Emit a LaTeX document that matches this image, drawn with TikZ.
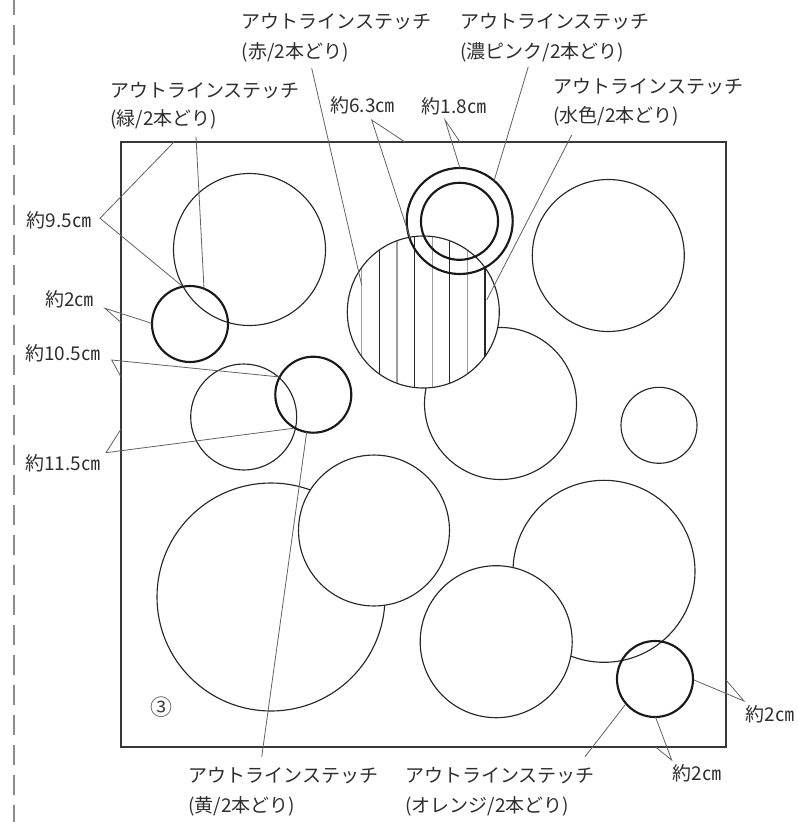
\documentclass[tikz,border=0pt]{standalone}
\usepackage{fontspec}
\setmainfont{Noto Sans CJK JP}
\newcommand\lblfont{\fontsize{14.25}{21}\selectfont}
\newcommand\numfont{\fontsize{16.5}{20}\selectfont}
\begin{document}
\begin{tikzpicture}[x=0.75pt,y=-0.75pt,
  circ/.style={draw=black!85, line width=0.85pt},
  thickcirc/.style={draw=black!90, line width=1.6pt},
  lead/.style={draw=black!62, line width=0.6pt},
  lbl/.style={anchor=base west, inner sep=0pt, text=black!82, font=\lblfont},
  hatchdark/.style={draw=black!85, line width=1.1pt},
  hatchlight/.style={draw=black!38, line width=0.9pt},
]
\useasboundingbox (0,0) rectangle (797,822);

% dashed fold line
\draw[black!45, line width=1.9pt, dash pattern=on 15pt off 7.5pt] (14,-5) -- (14,830);

% square
\draw[black!78, line width=1pt] (121,142) rectangle (726,747);

% plain circles
\draw[circ] (249.5,249.5) circle (57pt);
\draw[circ] (243.7,417) circle (39.75pt);
\draw[circ] (608.3,255.5) circle (57pt);
\draw[circ] (500.5,403.5) circle (57pt);
\draw[circ] (659,425.3) circle (28.5pt);
\draw[circ] (271,597) circle (85.5pt);
\filldraw[circ, fill=white] (374,530.5) circle (56.6pt);
\draw[circ] (604,571.3) circle (68.25pt);
\filldraw[circ, fill=white] (496.2,641.7) circle (57pt);

% hatched circle (red)
\fill[white] (423.3,312) circle (57pt);
\begin{scope}
  \clip (423.3,312) circle (57pt);
  \foreach \k in {0,...,7} {
    \pgfmathsetmacro\xx{361.7+17.6*\k}
    \ifodd\k
      \draw[hatchdark] (\xx,225) -- (\xx,400);
    \else
      \draw[hatchlight] (\xx,225) -- (\xx,400);
    \fi
  }
\end{scope}
\draw[circ] (423.3,312) circle (57pt);

% stitched (thick) circles
\draw[thickcirc] (459.7,221) circle (39.75pt);
\draw[thickcirc] (459.5,221.3) circle (28.9pt);
\draw[thickcirc] (190,324) circle (28.5pt);
\draw[thickcirc] (313.3,394.7) circle (28.5pt);
\draw[thickcirc] (655,679) circle (28.5pt);

% number
\node[inner sep=0pt, text=black!75, font=\numfont] (num) at (161.7,706.7) {③};

% labels
\node[lbl] (redA) at (241.7,28.7) {アウトラインステッチ};
\node[lbl] (redB) at (241.7,58.7) {(赤/2本どり)};
\node[lbl] (pinkA) at (460,28.7) {アウトラインステッチ};
\node[lbl] (pinkB) at (460,58.7) {(濃ピンク/2本どり)};
\node[lbl] (blueA) at (553.3,93.7) {アウトラインステッチ};
\node[lbl] (blueB) at (553.3,122) {(水色/2本どり)};
\node[lbl] (greenA) at (110,97) {アウトラインステッチ};
\node[lbl] (greenB) at (110,125.3) {(緑/2本どり)};
\node[lbl] (m63) at (330,112) {約6.3㎝};
\node[lbl] (m18) at (421.7,113) {約1.8㎝};
\node[lbl] (m95) at (26.7,227) {約9.5㎝};
\node[lbl] (m2l) at (45,306.3) {約2㎝};
\node[lbl] (m105) at (25,360.3) {約10.5㎝};
\node[lbl] (m115) at (25,470.3) {約11.5㎝};
\node[lbl] (yelA) at (188.3,782) {アウトラインステッチ};
\node[lbl] (yelB) at (188.3,812.5) {(黄/2本どり)};
\node[lbl] (oraA) at (405,782) {アウトラインステッチ};
\node[lbl] (oraB) at (405,812.5) {(オレンジ/2本どり)};
\node[lbl] (m2b) at (672.7,780.3) {約2㎝};
\node[lbl] (m2r) at (745.7,721) {約2㎝};

% leader end points
\coordinate (redS) at (311.7,68.3);   \coordinate (redE) at (361.7,285);
\coordinate (pinkS) at (528.3,66.7);  \coordinate (pinkE) at (494,181);
\coordinate (blueS) at (571.7,135);   \coordinate (blueE) at (486.7,300);
\coordinate (greenS) at (196,136.7);  \coordinate (greenE) at (204,288.5);
\coordinate (a63) at (371.7,120); \coordinate (a63s) at (405,142); \coordinate (a63c) at (410,238);
\coordinate (a18) at (445,120);   \coordinate (a18s) at (460,142); \coordinate (a18c) at (460,168.3);
\coordinate (a95) at (100,218.3); \coordinate (a95s) at (174,142); \coordinate (a95c) at (182.7,286.5);
\coordinate (a2l) at (105,308.3); \coordinate (a2ls) at (121,322.5); \coordinate (a2lc) at (151.7,323.3);
\coordinate (a105) at (111.7,360); \coordinate (a105s) at (121,377); \coordinate (a105c) at (280,377);
\coordinate (a115) at (106,452.7); \coordinate (a115s) at (121,429); \coordinate (a115c) at (293.3,428.3);
\coordinate (yelS) at (261.7,757);  \coordinate (yelE) at (306.7,432);
\coordinate (oraS) at (585,756.7);  \coordinate (oraE) at (625,705);
\coordinate (a2b) at (671.7,760); \coordinate (a2bs) at (655.5,747); \coordinate (a2bc) at (655.5,717);
\coordinate (a2r) at (744,701);   \coordinate (a2rs) at (726,680); \coordinate (a2rc) at (694,680);

% leaders
\draw[lead] (redS) -- (redE);
\draw[lead] (pinkS) -- (pinkE);
\draw[lead] (blueS) -- (blueE);
\draw[lead] (greenS) -- (greenE);
\draw[lead] (a63s) -- (a63) -- (a63c);
\draw[lead] (a18s) -- (a18) -- (a18c);
\draw[lead] (a95s) -- (a95) -- (a95c);
\draw[lead] (a2ls) -- (a2l) -- (a2lc);
\draw[lead] (a105s) -- (a105) -- (a105c);
\draw[lead] (a115s) -- (a115) -- (a115c);
\draw[lead] (yelS) -- (yelE);
\draw[lead] (oraS) -- (oraE);
\draw[lead] (a2bs) -- (a2b) -- (a2bc);
\draw[lead] (a2rs) -- (a2r) -- (a2rc);
\end{tikzpicture}
\end{document}
